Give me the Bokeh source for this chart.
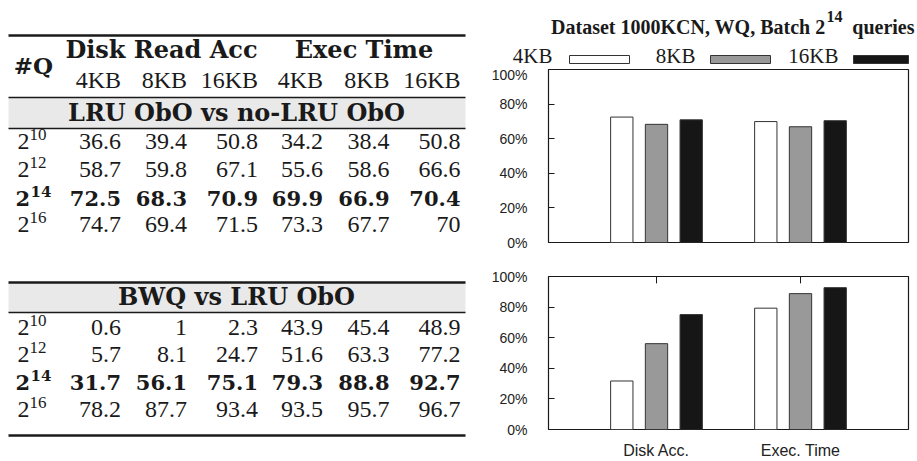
from bokeh.plotting import figure
from bokeh.models import Range1d, FactorRange, ColumnDataSource, FixedTicker, PrintfTickFormatter
from bokeh.layouts import row, column
from bokeh.transform import dodge
from bokeh.core.properties import value
from bokeh.embed import file_html
from bokeh.resources import INLINE

# ---------------- data ----------------
group_headers = ["Disk Read Acc", "Exec Time"]
size_labels = ["4KB", "8KB", "16KB"]
batch_exps = ["10", "12", "14", "16"]
highlight_exp = "14"

lru_title = "LRU ObO vs no-LRU ObO"
lru_rows = [
    [36.6, 39.4, 50.8, 34.2, 38.4, 50.8],
    [58.7, 59.8, 67.1, 55.6, 58.6, 66.6],
    [72.5, 68.3, 70.9, 69.9, 66.9, 70.4],
    [74.7, 69.4, 71.5, 73.3, 67.7, 70],
]
bwq_title = "BWQ vs LRU ObO"
bwq_rows = [
    [0.6, 1, 2.3, 43.9, 45.4, 48.9],
    [5.7, 8.1, 24.7, 51.6, 63.3, 77.2],
    [31.7, 56.1, 75.1, 79.3, 88.8, 92.7],
    [78.2, 87.7, 93.4, 93.5, 95.7, 96.7],
]

metrics = ["Disk Acc.", "Exec. Time"]
top_4kb = [72.5, 69.9]
top_8kb = [68.3, 66.9]
top_16kb = [70.9, 70.4]
bot_4kb = [31.7, 79.3]
bot_8kb = [56.1, 88.8]
bot_16kb = [75.1, 92.7]
y_ticks = [0, 20, 40, 60, 80, 100]

chart_title_main = "Dataset 1000KCN, WQ, Batch 2"
chart_title_sup = "14"
chart_title_tail = "queries"

# ---------------- style ----------------
INK = "#1a1a1a"
BAND = "#e9e9e9"
SERIF = "Liberation Serif"
BSERIF = "DejaVu Serif"
SANS = "Liberation Sans"
BAR_COLORS = ["#ffffff", "#999999", "#161616"]
BAR_OUT = "#333333"


def txt(p, x, y, s, size, font=SERIF, align="left", bold=False):
    # y is the wanted baseline; the renderer sits text about size/3 lower
    p.text(x=[x], y=[y - size / 3.0], text=[s], text_align=align, text_baseline="alphabetic",
           text_font=value(font), text_font_size=f"{size}px", text_color=INK,
           text_font_style="bold" if bold else "normal")


def rule(p, y, w):
    p.segment(x0=[8], x1=[465], y0=[y], y1=[y], line_color=INK, line_width=w)


# ---------------- table figure ----------------
tab = figure(width=480, height=461, x_range=Range1d(0, 480), y_range=Range1d(461, 0),
             x_axis_location=None, y_axis_location=None, min_border=0,
             outline_line_color=None, toolbar_location=None, output_backend="svg",
             title=None)
tab.grid.visible = False

col_right = [120.5, 186.5, 257.5, 322.5, 389, 460]
group_centers = [161, 363.5]


def fmt(v):
    return f"{v:g}"


def table_rows(p, rows, baselines):
    for exp, vals, base in zip(batch_exps, rows, baselines):
        bold = exp == highlight_exp
        if bold:
            txt(p, 15, base, "2", 21, BSERIF, "left", True)
            txt(p, 30, base - 9, exp, 15, BSERIF, "left", True)
        else:
            txt(p, 17, base, "2", 24, SERIF)
            txt(p, 29, base - 9, exp, 17, SERIF)
        for xr, v in zip(col_right, vals):
            if bold:
                txt(p, xr, base, fmt(v), 21, BSERIF, "right", True)
            else:
                txt(p, xr, base, fmt(v), 24, SERIF, "right")


# table 1
tab.quad(left=[8], right=[465], top=[97], bottom=[128], fill_color=BAND, line_color=None)
rule(tab, 35, 2.5)
rule(tab, 97, 1.5)
rule(tab, 128, 1.5)
for gx, g in zip(group_centers, group_headers):
    txt(tab, gx, 57, g, 24, BSERIF, "center", True)
txt(tab, 33, 73, "#Q", 23, BSERIF, "center", True)
for xr, s in zip(col_right, size_labels * 2):
    txt(tab, xr, 87, s, 24, SERIF, "right")
txt(tab, 236, 120, lru_title, 24, BSERIF, "center", True)
table_rows(tab, lru_rows, [149, 177, 205, 232])

# table 2
tab.quad(left=[8], right=[465], top=[282], bottom=[312], fill_color=BAND, line_color=None)
rule(tab, 282, 2.5)
rule(tab, 312, 1.5)
rule(tab, 435, 2.5)
txt(tab, 236, 304, bwq_title, 24, BSERIF, "center", True)
table_rows(tab, bwq_rows, [335, 362, 389, 417])

# ---------------- header (title + legend) ----------------
hdr = figure(width=437, height=66, x_range=Range1d(480, 917), y_range=Range1d(66, 0),
             x_axis_location=None, y_axis_location=None, min_border=0,
             outline_line_color=None, toolbar_location=None, output_backend="svg",
             title=None)
hdr.frame_align = False
hdr.grid.visible = False
txt(hdr, 825, 33, chart_title_main, 20, SERIF, "right", True)
txt(hdr, 826, 21.5, chart_title_sup, 16, SERIF, "left", True)
txt(hdr, 914, 33, chart_title_tail, 20, SERIF, "right", True)
legend_text_right = [552, 695, 838]
legend_box_left = [569, 710, 853]
legend_box_right = [629, 770, 908]
for xr, s in zip(legend_text_right, size_labels):
    txt(hdr, xr, 62, s, 21, SERIF, "right")
hdr.quad(left=legend_box_left, right=legend_box_right, top=[55] * 3, bottom=[63] * 3,
         fill_color=BAR_COLORS, line_color=BAR_OUT, line_width=1)


# ---------------- bar charts ----------------
def chart(height, b_top, b_bottom, v4, v8, v16, show_labels):
    p = figure(width=437, height=height,
               x_range=FactorRange(factors=metrics, range_padding=0.25,
                                   range_padding_units="absolute"),
               y_range=Range1d(0, 100), output_backend="svg", toolbar_location=None,
               min_border_left=68, min_border_right=9, min_border_top=b_top,
               min_border_bottom=b_bottom, title=None,
               x_axis_location="below" if show_labels else None)
    src = ColumnDataSource(dict(metric=metrics, v4=v4, v8=v8, v16=v16))
    for key, off, color in zip(["v4", "v8", "v16"], [-0.241, 0, 0.241], BAR_COLORS):
        p.vbar(x=dodge("metric", off, range=p.x_range), top=key, bottom=0, width=0.155,
               source=src, fill_color=color, line_color=BAR_OUT, line_width=1)
    p.grid.visible = False
    p.outline_line_color = INK
    p.outline_line_width = 1.2
    ya = p.yaxis[0]
    ya.ticker = FixedTicker(ticks=y_ticks)
    ya.formatter = PrintfTickFormatter(format="%d%%")
    ya.major_tick_in = 6
    ya.major_tick_out = 0
    ya.minor_tick_line_color = None
    ya.axis_line_color = None
    ya.major_tick_line_color = INK
    ya.major_label_standoff = 21
    ya.major_label_text_font = SANS
    ya.major_label_text_font_size = "14px"
    ya.major_label_text_color = "#222222"
    if show_labels:
        xa = p.xaxis[0]
        xa.major_tick_in = 0
        xa.major_tick_out = 0
        xa.axis_line_color = None
        xa.major_label_standoff = 12
        xa.major_label_text_font = SANS
        xa.major_label_text_font_size = "16px"
        xa.major_label_text_color = "#222222"
        tsrc = ColumnDataSource(dict(metric=metrics, y0=[100] * 2, y1=[95.5] * 2))
        p.segment(x0="metric", x1="metric", y0="y0", y1="y1", source=tsrc,
                  line_color=INK, line_width=1)
    return p


top = chart(192, 3, 16, top_4kb, top_8kb, top_16kb, False)
bot = chart(203, 18, 29, bot_4kb, bot_8kb, bot_16kb, True)

layout = row(tab, column(hdr, top, bot))
open("out.html", "w").write(file_html(layout, INLINE))
